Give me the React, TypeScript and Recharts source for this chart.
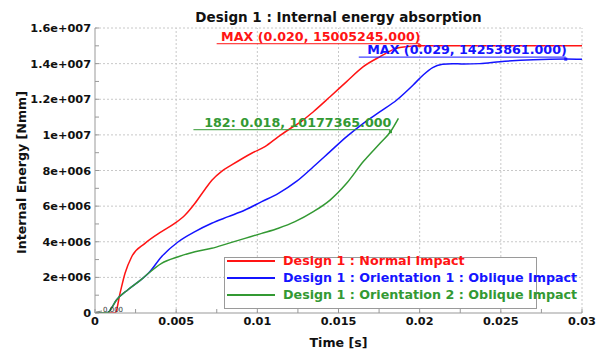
import React from 'react';
import { LineChart, Line, XAxis, YAxis, ReferenceLine, ReferenceDot, Legend } from 'recharts';

const FONT = '"DejaVu Sans", Verdana, sans-serif';

// Time [s] and Internal Energy [1e6 Nmm]
const normalT = [0, 0.00125, 0.00154, 0.00185, 0.00226, 0.00308, 0.0041, 0.00493, 0.00555, 0.00616, 0.00678, 0.0072, 0.0078, 0.00842, 0.00965, 0.01047, 0.0113, 0.0121, 0.01263, 0.01345, 0.01448, 0.0155, 0.01653, 0.01756, 0.01859, 0.0196, 0.02, 0.025, 0.03];
const normalE = [0, 0, 1.1, 2.23, 3.16, 3.91, 4.57, 5.04, 5.5, 6.16, 6.95, 7.45, 7.95, 8.31, 8.97, 9.34, 9.9, 10.4, 10.7, 11.3, 12.14, 12.99, 13.83, 14.39, 14.86, 14.99, 15.005245, 15.0, 15.0];

const orient1T = [0, 0.0008, 0.001, 0.0013, 0.00205, 0.00288, 0.00329, 0.0041, 0.00513, 0.00616, 0.00719, 0.00821, 0.00924, 0.01027, 0.0113, 0.01243, 0.01345, 0.01448, 0.0155, 0.01653, 0.01756, 0.01859, 0.0196, 0.0202, 0.0208, 0.0214, 0.022, 0.0227, 0.0237, 0.02495, 0.027, 0.029, 0.03];
const orient1E = [0, 0.03, 0.25, 0.7, 1.32, 1.9, 2.23, 3.16, 4.0, 4.57, 5.04, 5.41, 5.78, 6.25, 6.72, 7.4, 8.21, 9.06, 9.9, 10.65, 11.3, 11.96, 12.8, 13.35, 13.78, 13.96, 14.0, 13.98, 14.0, 14.11, 14.22, 14.253861, 14.24];

const orient2T = [0, 0.0008, 0.001, 0.0013, 0.00205, 0.00288, 0.00329, 0.0041, 0.00513, 0.00616, 0.00719, 0.00821, 0.00924, 0.01027, 0.0113, 0.01232, 0.01345, 0.01448, 0.0155, 0.01653, 0.01756, 0.0182, 0.01869];
const orient2E = [0, 0.03, 0.25, 0.7, 1.32, 1.9, 2.23, 2.79, 3.16, 3.44, 3.63, 3.91, 4.19, 4.47, 4.76, 5.13, 5.69, 6.34, 7.28, 8.5, 9.53, 10.177365, 10.93];

const seriesNames = [
  'Design 1 : Normal Impact',
  'Design 1 : Orientation 1 : Oblique Impact',
  'Design 1 : Orientation 2 : Oblique Impact',
];
const seriesColors = ['#ff1414', '#1414ff', '#339933'];

const xMajorTicks = [0, 0.005, 0.01, 0.015, 0.02, 0.025, 0.03];
const xTickLabels = ['0', '0.005', '0.01', '0.015', '0.02', '0.025', '0.03'];
const xMinorTicks = [0.0025, 0.0075, 0.0125, 0.0175, 0.0225, 0.0275];
const yMajorTicks = [0, 2e6, 4e6, 6e6, 8e6, 1e7, 1.2e7, 1.4e7, 1.6e7];
const yTickLabels = ['0', '2e+006', '4e+006', '6e+006', '8e+006', '1e+007', '1.2e+007', '1.4e+007', '1.6e+007'];
const yMinorTicks = [1e6, 3e6, 5e6, 7e6, 9e6, 1.1e7, 1.3e7, 1.5e7];

// annotations
const annT = [0.02, 0.029, 0.0182];
const annE = [15005245, 14253861, 10177365];
const annText = ['MAX (0.020, 15005245.000)', 'MAX (0.029, 14253861.000)', '182: 0.018, 10177365.000'];
const annUnderline = [203, 207, 197];
const originText = '0.000';

const toPoints = (t: number[], e: number[]) => t.map((x, i) => ({ t: x, e: e[i] * 1e6 }));
const normalData = toPoints(normalT, normalE);
const orient1Data = toPoints(orient1T, orient1E);
const orient2Data = toPoints(orient2T, orient2E);

const xAllTicks = [...xMajorTicks, ...xMinorTicks].sort((a, b) => a - b);
const yAllTicks = [...yMajorTicks, ...yMinorTicks].sort((a, b) => a - b);

const XTick = (props: any) => {
  const { x, y, payload } = props;
  const idx = xMajorTicks.indexOf(payload.value);
  return (
    <g>
      <line x1={x} x2={x} y1={y} y2={y - 4} stroke="#999" strokeWidth={1} />
      {idx >= 0 && (
        <text x={x} y={y + 4} dy="0.71em" textAnchor="middle" fontFamily={FONT} fontWeight="bold" fontSize={11.3} fill="#111">
          {xTickLabels[idx]}
        </text>
      )}
    </g>
  );
};

const YTick = (props: any) => {
  const { x, y, payload } = props;
  const idx = yMajorTicks.indexOf(payload.value);
  return (
    <g>
      <line x1={x} x2={x + 4} y1={y} y2={y} stroke="#999" strokeWidth={1} />
      {idx >= 0 && (
        <text x={x - 4} y={y} dy="0.355em" textAnchor="end" fontFamily={FONT} fontWeight="bold" fontSize={11.3} fill="#111">
          {yTickLabels[idx]}
        </text>
      )}
    </g>
  );
};

const renderYLabel = (props: any) => {
  const vb = props.viewBox;
  const cx = vb.x + 22;
  const cy = vb.y + vb.height / 2 + 2;
  return (
    <text x={cx} y={cy} dy="0.35em" transform={`rotate(-90 ${cx} ${cy})`} textAnchor="middle" fontFamily={FONT} fontWeight="bold" fontSize={12.6} fill="#111">
      Internal Energy [Nmm]
    </text>
  );
};

const renderXLabel = (props: any) => {
  const vb = props.viewBox;
  return (
    <text x={vb.x + vb.width / 2} y={vb.y + 34} textAnchor="middle" fontFamily={FONT} fontWeight="bold" fontSize={12.6} fill="#111">
      Time [s]
    </text>
  );
};

const makeAnnShape = (i: number) => (props: any) => {
  const { cx, cy } = props;
  const color = seriesColors[i];
  return (
    <g>
      <line x1={cx - annUnderline[i]} x2={cx} y1={cy - 2} y2={cy - 2} stroke={color} strokeWidth={1} />
      <rect x={cx - 1.5} y={cy - 1.5} width={3} height={3} fill={color} />
      <text x={cx + 1} y={cy - 5} textAnchor="end" fontFamily={FONT} fontWeight="bold" fontSize={12.7} fill={color}>
        {annText[i]}
      </text>
    </g>
  );
};

const originShape = (props: any) => {
  const { cx, cy } = props;
  return (
    <g>
      <line x1={cx + 1} x2={cx + 7} y1={cy - 1} y2={cy - 2} stroke="#666" strokeWidth={0.8} />
      <text x={cx + 8} y={cy - 1} fontFamily={FONT} fontSize={7} fill="#333">
        {originText}
      </text>
    </g>
  );
};

const renderLegend = (props: any) => {
  const payload = props.payload || [];
  return (
    <div
      style={{
        position: 'relative',
        width: 313,
        height: 52,
        border: '1px solid #9a9a9a',
        background: '#fff',
        boxSizing: 'border-box',
        fontFamily: FONT,
      }}
    >
      {payload.map((p: any, i: number) => (
        <div key={i} style={{ position: 'absolute', left: 0, top: 3 + i * 17 - 9, height: 18, width: 400 }}>
          <div style={{ position: 'absolute', left: 2, top: 8, width: 48, height: 0, borderTop: `2px solid ${p.color}` }} />
          <div
            style={{
              position: 'absolute',
              left: 58,
              top: 0,
              lineHeight: '18px',
              fontSize: 12.7,
              fontWeight: 'bold',
              color: p.color,
              whiteSpace: 'nowrap',
            }}
          >
            {p.value}
          </div>
        </div>
      ))}
    </div>
  );
};

export default function App() {
  return (
    <div style={{ position: 'absolute', left: 0, top: 0, width: 611, height: 352, background: '#fff' }}>
      <div
        style={{
          position: 'absolute',
          left: 95,
          top: 9,
          width: 487,
          textAlign: 'center',
          fontFamily: FONT,
          fontWeight: 'bold',
          fontSize: 13.5,
          color: '#111',
          whiteSpace: 'nowrap',
          zIndex: 2,
        }}
      >
        Design 1 : Internal energy absorption
      </div>
      <LineChart width={611} height={352} margin={{ top: 28, right: 29, left: 0, bottom: 0 }}>
        {yMajorTicks.slice(1).map((v) => (
          <ReferenceLine key={'gy' + v} y={v} stroke="#c8c8c8" strokeDasharray="2 2" strokeWidth={1} />
        ))}
        {xMajorTicks.slice(1).map((v) => (
          <ReferenceLine key={'gx' + v} x={v} stroke="#c8c8c8" strokeDasharray="2 2" strokeWidth={1} />
        ))}
        <XAxis
          type="number"
          dataKey="t"
          domain={[0, 0.03]}
          ticks={xAllTicks}
          interval={0}
          tick={<XTick />}
          tickLine={false}
          tickSize={0}
          tickMargin={0}
          axisLine={{ stroke: '#999' }}
          height={39}
          label={renderXLabel}
          allowDataOverflow
        />
        <YAxis
          type="number"
          dataKey="e"
          domain={[0, 1.6e7]}
          ticks={yAllTicks}
          interval={0}
          tick={<YTick />}
          tickLine={false}
          tickSize={0}
          tickMargin={0}
          axisLine={{ stroke: '#999' }}
          width={95}
          label={renderYLabel}
          allowDataOverflow
        />
        <Line data={normalData} dataKey="e" name={seriesNames[0]} type="monotone" stroke={seriesColors[0]} strokeWidth={1.5} dot={false} isAnimationActive={false} />
        <Line data={orient1Data} dataKey="e" name={seriesNames[1]} type="monotone" stroke={seriesColors[1]} strokeWidth={1.5} dot={false} isAnimationActive={false} />
        <Line data={orient2Data} dataKey="e" name={seriesNames[2]} type="monotone" stroke={seriesColors[2]} strokeWidth={1.5} dot={false} isAnimationActive={false} />
        {annT.map((t, i) => (
          <ReferenceDot key={'ann' + i} x={t} y={annE[i]} r={2} shape={makeAnnShape(i)} />
        ))}
        <ReferenceDot x={0} y={0} r={1} shape={originShape} />
        <Legend
          layout="horizontal"
          align="center"
          verticalAlign="middle"
          content={renderLegend}
          wrapperStyle={{ left: 224, top: 257, width: 313, height: 52 }}
        />
      </LineChart>
    </div>
  );
}
